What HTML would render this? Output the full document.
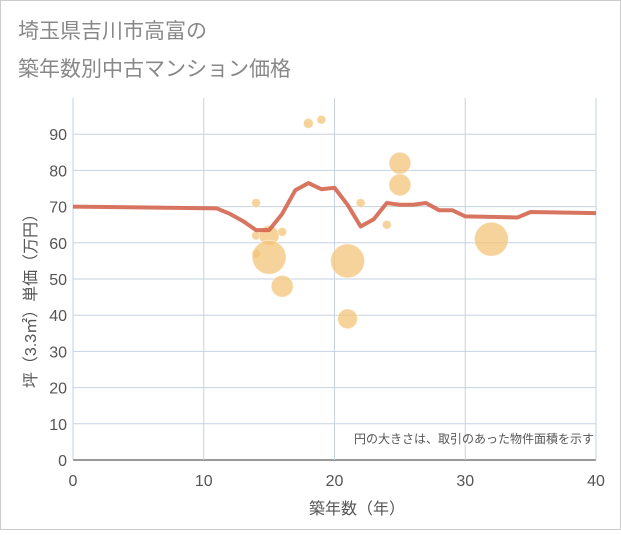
<!DOCTYPE html>
<html><head><meta charset="utf-8"><style>
body{margin:0;background:#fff;font-family:"Liberation Sans","Noto Sans CJK JP",sans-serif}
</style></head><body>
<svg width="621" height="530" xmlns="http://www.w3.org/2000/svg">
<rect x="0.5" y="0.5" width="620" height="529" fill="#fff" stroke="#ccc"/>
<text x="18" y="38" font-size="21" fill="#888" font-family="Liberation Sans,Noto Sans CJK JP,sans-serif">埼玉県吉川市高富の</text>
<text x="18" y="76" font-size="21" fill="#888" font-family="Liberation Sans,Noto Sans CJK JP,sans-serif">築年数別中古マンション価格</text>
<g id="grid"></g><g id="axes"></g><g id="bubbles"></g><g id="line"></g>
<text x="594" y="443" font-size="12" fill="#555" text-anchor="end" font-family="Liberation Sans,Noto Sans CJK JP,sans-serif">円の大きさは、取引のあった物件面積を示す</text>
<text x="357" y="514" font-size="16" fill="#555" text-anchor="middle" font-family="Liberation Sans,Noto Sans CJK JP,sans-serif">築年数（年）</text>
<text transform="translate(36,297) rotate(-90)" font-size="16" fill="#555" text-anchor="middle" font-family="Liberation Sans,Noto Sans CJK JP,sans-serif">坪（3.3㎡）単価（万円）</text>
</svg>
<script>
const xTicks=[0,10,20,30,40];
const yTicks=[0,10,20,30,40,50,60,70,80,90];
const lineX=[0,11,12,13,14,15,16,17,18,19,20,21,22,23,24,25,26,27,28,29,30,34,35,40];
const lineY=[70,69.5,68,66,63.5,63.5,68,74.5,76.5,74.8,75.2,70.5,64.5,66.5,71,70.5,70.5,71,69,69,67.3,67,68.5,68.2];
const bubX=[14,14,14,15,15,16,16,18,19,21,21,22,24,25,25,32];
const bubY=[71,62,57,62,56,63,48,93,94,55,39,71,65,82,76,61];
const bubR=[4.5,4.5,4.5,10,17,4.5,11,5,4.5,17,10,4.5,4.5,11,11,17];
const NS="http://www.w3.org/2000/svg";
const X0=73,X1=596,Y0=460,Y1=98;
const sx=v=>X0+(v-0)/40*(X1-X0);
const sy=v=>Y0-v/100*(Y0-Y1);
function mk(t,a,p){const e=document.createElementNS(NS,t);for(const k in a)e.setAttribute(k,a[k]);p.appendChild(e);return e;}
const grid=document.getElementById('grid'),axes=document.getElementById('axes');
yTicks.forEach(v=>{
 const l=mk('line',{x1:X0,x2:X1,y1:sy(v),y2:sy(v),stroke:v===0?'#333':'#c5d2e0','stroke-width':1},grid);
 
 
 const t=mk('text',{x:X0-6,y:sy(v)+6,'font-size':16,fill:'#555','text-anchor':'end'},axes);
 t.textContent=v;
 
 
});
xTicks.forEach(v=>{
 const l=mk('line',{x1:sx(v),x2:sx(v),y1:Y1,y2:Y0,stroke:'#c5d2e0','stroke-width':1},grid);
 
 
 const t=mk('text',{x:sx(v),y:Y0+26,'font-size':16,fill:'#555','text-anchor':'middle'},axes);
 t.textContent=v;
 
 
});
const bg=document.getElementById('bubbles');
bubX.forEach((x,i)=>{
 const c=mk('circle',{cx:sx(x),cy:sy(bubY[i]),r:bubR[i],fill:'#f3c47a','fill-opacity':0.75,stroke:'#fff','stroke-opacity':0.5},bg);
 
 
});
const p=mk('polyline',{points:lineX.map((x,i)=>sx(x)+','+sy(lineY[i])).join(' '),fill:'none',stroke:'#d4664f','stroke-width':4,'stroke-linejoin':'round','stroke-opacity':0.9},document.getElementById('line'));


</script>
</body></html>
